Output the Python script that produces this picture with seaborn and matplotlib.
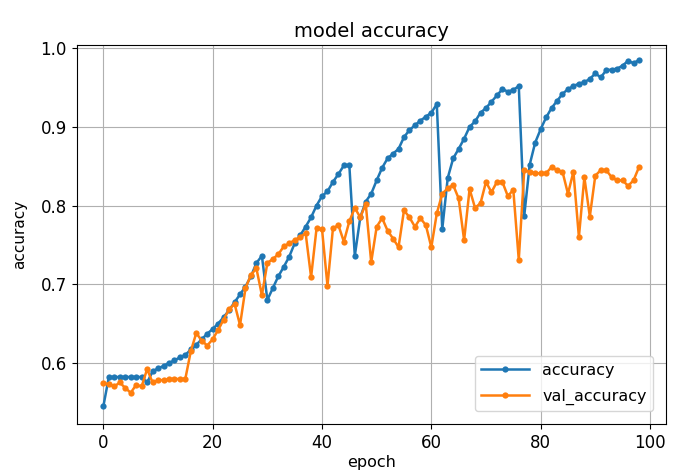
import numpy as np
import pandas as pd
import seaborn as sns
import matplotlib.pyplot as plt

# training history
accuracy = [
    0.545, 0.582, 0.582, 0.582, 0.582, 0.582, 0.582, 0.582, 0.575, 0.589,
    0.593, 0.596, 0.600, 0.603, 0.607, 0.610, 0.617, 0.623, 0.630, 0.637,
    0.643, 0.650, 0.658, 0.667, 0.677, 0.687, 0.697, 0.710, 0.727, 0.736,
    0.680, 0.695, 0.710, 0.722, 0.735, 0.752, 0.762, 0.773, 0.785, 0.800,
    0.812, 0.818, 0.830, 0.840, 0.851, 0.851, 0.736, 0.785, 0.805, 0.815,
    0.832, 0.848, 0.860, 0.866, 0.872, 0.887, 0.896, 0.902, 0.908, 0.913,
    0.918, 0.929, 0.770, 0.835, 0.860, 0.872, 0.885, 0.900, 0.907, 0.918,
    0.924, 0.932, 0.940, 0.948, 0.945, 0.947, 0.952, 0.787, 0.852, 0.880,
    0.897, 0.912, 0.924, 0.933, 0.942, 0.948, 0.952, 0.955, 0.957, 0.961,
    0.968, 0.963, 0.972, 0.973, 0.974, 0.978, 0.984, 0.981, 0.985,
]
val_accuracy = [
    0.574, 0.573, 0.570, 0.575, 0.568, 0.562, 0.572, 0.570, 0.592, 0.575,
    0.578, 0.578, 0.579, 0.580, 0.579, 0.580, 0.615, 0.638, 0.628, 0.622,
    0.630, 0.642, 0.655, 0.668, 0.675, 0.648, 0.695, 0.712, 0.720, 0.686,
    0.727, 0.732, 0.738, 0.748, 0.752, 0.756, 0.760, 0.765, 0.709, 0.771,
    0.770, 0.698, 0.771, 0.775, 0.754, 0.780, 0.797, 0.785, 0.802, 0.728,
    0.773, 0.784, 0.768, 0.758, 0.747, 0.794, 0.785, 0.773, 0.784, 0.775,
    0.747, 0.790, 0.815, 0.822, 0.826, 0.809, 0.756, 0.821, 0.797, 0.803,
    0.830, 0.817, 0.830, 0.830, 0.812, 0.820, 0.731, 0.845, 0.843, 0.841,
    0.841, 0.841, 0.849, 0.845, 0.843, 0.815, 0.843, 0.760, 0.836, 0.786,
    0.838, 0.845, 0.845, 0.836, 0.832, 0.832, 0.825, 0.832, 0.849,
]
epochs = np.arange(len(accuracy))

fig = plt.figure(figsize=(6.78, 4.75), dpi=100)
ax = fig.add_axes([0.113, 0.107, 0.869, 0.798])

sns.lineplot(x=epochs, y=accuracy, marker='.', markersize=9, markeredgewidth=0,
             linewidth=1.8, color='tab:blue', label='accuracy', ax=ax)
sns.lineplot(x=epochs, y=val_accuracy, marker='.', markersize=9, markeredgewidth=0,
             linewidth=1.8, color='tab:orange', label='val_accuracy', ax=ax)

ax.set_title('model accuracy', fontsize=14)
ax.set_xlabel('epoch', fontsize=11.5, labelpad=2)
ax.set_ylabel('accuracy', fontsize=11, labelpad=10)
ax.tick_params(labelsize=12)
ax.set_xticks([0, 20, 40, 60, 80, 100])
ax.set_yticks([0.6, 0.7, 0.8, 0.9, 1.0])
ax.set_ylim(0.522, 1.004)
ax.grid(True)
ax.legend(loc='lower right', fontsize=11.5, handlelength=3, labelspacing=0.7,
          borderaxespad=0.8)

fig.savefig('out.png', dpi=100)
